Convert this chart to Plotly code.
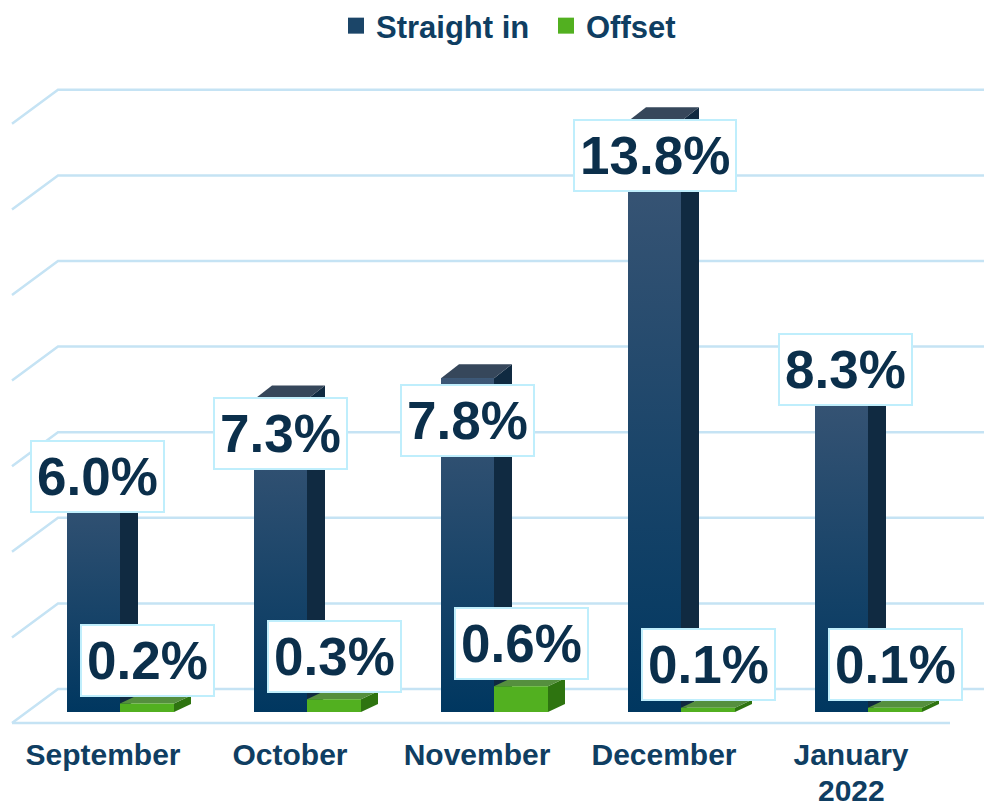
import plotly.graph_objects as go

# ---------------- data ----------------
months = ["September", "October", "November", "December", "January<br>2022"]
straight_in = [6.0, 7.3, 7.8, 13.8, 8.3]
offset_vals = [0.2, 0.3, 0.6, 0.1, 0.1]
series_names = ["Straight in", "Offset"]
grid_values = [0, 2, 4, 6, 8, 10, 12, 14]

# ---------------- geometry / style ----------------
# the page body adds an 8px margin, so the figure is 984x800 (pixel targets
# below are in figure coordinates = screen - 8)
W, H = 984, 800
MT, MB = 32, 78
PX_X = 187.0          # pixels per category step
PX_Y = 42.8           # pixels per percentage point
CAT0_PX = 95          # pixel x of first category
BASE_PX = 704         # pixel y of bar base (value 0)
PLOT_H = H - MT - MB

def dx(px):
    return px / PX_X

def dy(px):
    return px / PX_Y

x_range = [(0 - CAT0_PX) / PX_X, (W - CAT0_PX) / PX_X]
y_range = [(BASE_PX - (H - MB)) / PX_Y, (BASE_PX - MT) / PX_Y]

NAVY_OFF, NAVY_W = dx(-36), dx(53)
GREEN_OFF, GREEN_W = dx(17), dx(54)
NAVY_DEPTH = (dx(18), dy(14))
GREEN_DEPTH = (dx(17), dy(8))

NAVY_FRONT = "#0b3a61"
NAVY_LEGEND = "#1b4568"
NAVY_TOP = "#36475b"
NAVY_SIDE = "#102a41"
GREEN_FRONT = "#52b020"
GREEN_TOP = "#558f3e"
GREEN_SIDE = "#2e7410"
GRID = "#c5e3f4"
LABEL_TXT = "#0b2f4b"
AXIS_TXT = "#0f3e62"
FONT = "Liberation Sans, Arial, sans-serif"
CAT_FONT_SIZE = 30

xs = list(range(len(months)))
first_lines = [m.split("<br>")[0] for m in months]
extra_lines = [m.split("<br>")[1:] for m in months]

fig = go.Figure()

fig.add_trace(go.Bar(
    x=xs, y=straight_in, name=series_names[0], offset=NAVY_OFF, width=NAVY_W,
    marker=dict(color=NAVY_FRONT, line=dict(width=0)), hoverinfo="skip",
    showlegend=False, legendgroup="a"))
fig.add_trace(go.Bar(
    x=xs, y=offset_vals, name=series_names[1], offset=GREEN_OFF, width=GREEN_W,
    marker=dict(color=GREEN_FRONT, line=dict(width=0)), hoverinfo="skip",
    showlegend=False, legendgroup="b"))

# gradient overlay on navy fronts
for i, v in zip(xs, straight_in):
    x0 = i + NAVY_OFF
    x1 = x0 + NAVY_W
    fig.add_trace(go.Scatter(
        x=[x0, x1, x1, x0, x0], y=[0, 0, v, v, 0], mode="none", fill="toself",
        fillgradient=dict(type="vertical", colorscale=[[0, "#003760"], [1, "#3d5776"]],
                          start=0, stop=v),
        showlegend=False, hoverinfo="skip"))

# legend entries (larger square swatches)
for name, col, grp in [(series_names[0], NAVY_LEGEND, "a"), (series_names[1], GREEN_FRONT, "b")]:
    fig.add_trace(go.Scatter(
        x=[None], y=[None], mode="markers", name=name, legendgroup=grp,
        marker=dict(symbol="square", size=17, color=col, line=dict(width=0))))

shapes = []
# back wall gridlines with left diagonal
back_shift = dy(BASE_PX - 681)
x_lf, x_lb = dx(4 - CAT0_PX), dx(50 - CAT0_PX)
for g in grid_values:
    yb = g + back_shift
    yf = yb - dy(34)
    shapes.append(dict(type="path", xref="x", yref="y", layer="below",
                       path=f"M {x_lf},{yf} L {x_lb},{yb} L {x_range[1]},{yb}",
                       line=dict(color=GRID, width=2.5)))
# floor front edge
yfloor = back_shift - dy(34)
shapes.append(dict(type="line", xref="x", yref="y", layer="below",
                   x0=x_lf, x1=dx(942 - CAT0_PX), y0=yfloor, y1=yfloor,
                   line=dict(color=GRID, width=2.5)))

def box3d(x0, w, v, depth, top_col, side_col):
    ddx, ddy = depth
    x1 = x0 + w
    top = (f"M {x0},{v} L {x0+ddx},{v+ddy} L {x1+ddx},{v+ddy} L {x1},{v} Z")
    side = (f"M {x1},0 L {x1+ddx},{ddy} L {x1+ddx},{v+ddy} L {x1},{v} Z")
    return [dict(type="path", xref="x", yref="y", layer="below", path=side,
                 fillcolor=side_col, line=dict(width=0)),
            dict(type="path", xref="x", yref="y", layer="below", path=top,
                 fillcolor=top_col, line=dict(width=0))]

for i, v in zip(xs, straight_in):
    shapes += box3d(i + NAVY_OFF, NAVY_W, v, NAVY_DEPTH, NAVY_TOP, NAVY_SIDE)
for i, v in zip(xs, offset_vals):
    shapes += box3d(i + GREEN_OFF, GREEN_W, v, GREEN_DEPTH, GREEN_TOP, GREEN_SIDE)

# data labels
navy_label_drop = [0.5, 0.8, 1.0, 0.8, 0.3]
navy_label_nudge = [dx(4), 0, 0, 0, dx(4)]
annotations = []
for i, v, d, n in zip(xs, straight_in, navy_label_drop, navy_label_nudge):
    annotations.append(dict(
        x=i + NAVY_OFF + NAVY_W / 2 + n, y=v - d, xref="x", yref="y",
        text=f"{v:.1f}%", showarrow=False, xanchor="center", yanchor="middle",
        font=dict(family=FONT, size=53, color=LABEL_TXT, weight="bold"),
        bgcolor="white", bordercolor="#bfeefc", borderwidth=2, borderpad=5))
for i, v in zip(xs, offset_vals):
    annotations.append(dict(
        x=i + GREEN_OFF + GREEN_W / 2, y=v + 1.0, xref="x", yref="y",
        text=f"{v:.1f}%", showarrow=False, xanchor="center", yanchor="middle",
        font=dict(family=FONT, size=53, color=LABEL_TXT, weight="bold"),
        bgcolor="white", bordercolor="#bfeefc", borderwidth=2, borderpad=5))

# second lines of category labels (tight line spacing as in the original)
for i, lines in zip(xs, extra_lines):
    for k, line in enumerate(lines):
        annotations.append(dict(
            x=i, y=(-MB + 34 * (len(lines) - 1 - k)) / PLOT_H, xref="x", yref="paper",
            text=line, showarrow=False, xanchor="center", yanchor="bottom",
            borderpad=0,
            font=dict(family=FONT, size=CAT_FONT_SIZE, color=AXIS_TXT, weight="bold")))

fig.update_layout(
    width=W, height=H,
    margin=dict(l=0, r=0, t=MT, b=MB, autoexpand=False),
    paper_bgcolor="white", plot_bgcolor="white",
    barmode="overlay",
    shapes=shapes, annotations=annotations,
    showlegend=True,
    legend=dict(orientation="h", x=0.5 + 46 / W, xanchor="center", yref="container",
                y=1 - 18 / H, yanchor="middle", itemsizing="trace",
                font=dict(family=FONT, size=31, color=AXIS_TXT, weight="bold"),
                traceorder="normal", entrywidth=165),
    xaxis=dict(range=x_range, tickvals=xs, ticktext=first_lines, showgrid=False,
               zeroline=False, showline=False, ticks="", automargin=False,
               ticklabelstandoff=4,
               tickfont=dict(family=FONT, size=CAT_FONT_SIZE, color=AXIS_TXT, weight="bold")),
    yaxis=dict(range=y_range, visible=False, showgrid=False, zeroline=False,
               automargin=False),
)

fig.write_html("out.html")
